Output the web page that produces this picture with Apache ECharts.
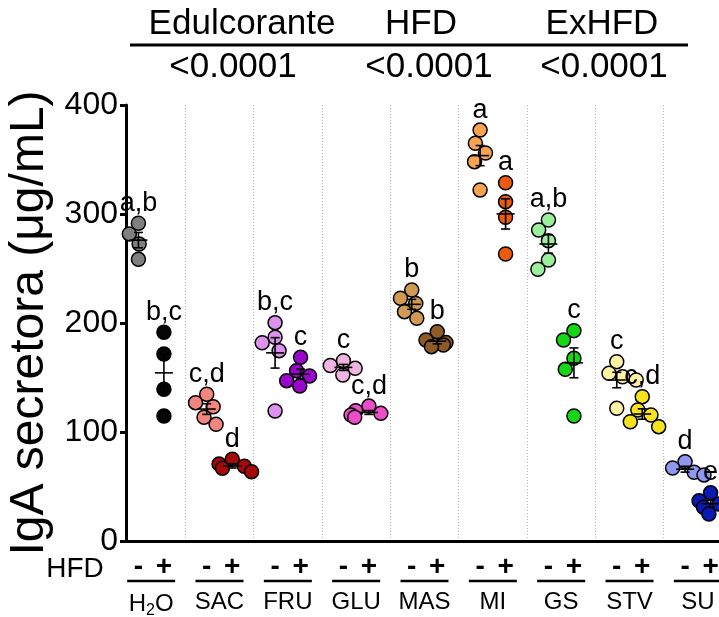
<!DOCTYPE html>
<html><head><meta charset="utf-8">
<script src="https://cdn.jsdelivr.net/npm/echarts@6/dist/echarts.min.js"></script>
<style>html,body{margin:0;padding:0;background:#fff}#c{width:719px;height:617px}</style>
</head><body><div id="c"></div>
<script>
// ---------------- DATA ----------------
const groups = ['H2O', 'SAC', 'FRU', 'GLU', 'MAS', 'MI', 'GS', 'STV', 'SU'];
const minusValues = [
  [291.5, 281.7, 272.5, 258.4],
  [134.6, 126.9, 123.2, 113.5, 107.0],
  [200.3, 186.9, 181.9, 174.6, 119.3],
  [165.4, 161.0, 158.4, 152.3],
  [230.3, 222.7, 218.0, 210.4, 204.3],
  [377.0, 364.9, 356.0, 348.0, 322.0],
  [294.5, 285.3, 275.5, 257.8, 249.3],
  [164.5, 153.8, 150.7, 147.7, 121.7],
  [72.8, 67.0, 63.0, 60.6]
];
const plusValues = [
  [191.5, 171.6, 139.2, 114.7],
  [75.0, 70.6, 68.5, 66.7, 63.6],
  [168.5, 156.2, 151.4, 147.1, 142.2],
  [123.8, 119.5, 117.1, 115.6, 113.5],
  [192.0, 184.4, 182.0, 179.8, 178.3],
  [328.7, 311.3, 297.0, 263.3],
  [193.0, 184.4, 167.6, 157.5, 114.7],
  [132.4, 120.2, 115.6, 109.4, 104.9],
  [44.3, 37.0, 33.9, 31.0, 24.8]
];
const minusLetters = ['a,b', 'c,d', 'b,c', 'c', 'b', 'a', 'a,b', 'c', 'd'];
const plusLetters = ['b,c', 'd', 'c', 'c,d', 'b', 'a', 'c', 'c,d', 'e'];
const factors = ['Edulcorante', 'HFD', 'ExHFD'];
const pValues = ['<0.0001', '<0.0001', '<0.0001'];
const yTicks = [0, 100, 200, 300, 400];
const signLabels = ['-', '+'];
const rowLabel = 'HFD';
const yTitle = 'IgA secretora (μg/mL)';

// ---------------- STYLES ----------------
const minusColors = ['#808080', '#F4857F', '#DC92EE', '#F0B3E2', '#D09A55', '#F8A352', '#9BEE9B', '#FFF2A2', '#8F98F0'];
const plusColors  = ['#050505', '#A80808', '#9A06CE', '#EE4CC8', '#8E5A26', '#EE5A0E', '#14D814', '#F6E31E', '#0A1AB2'];
const FONT = '"Liberation Sans", Arial, sans-serif';

function mean(a) { return a.reduce((s, v) => s + v, 0) / a.length; }
function sem(a) {
  const m = mean(a);
  const sd = Math.sqrt(a.reduce((s, v) => s + (v - m) * (v - m), 0) / (a.length - 1));
  return sd / Math.sqrt(a.length);
}

const TOP = 105, BOTTOM = 76, GW = 615, GL = 117, SHIFT = 12.75;

const chart = echarts.init(document.getElementById('c'), null, { renderer: 'canvas', width: 719, height: 617 });

function scatterData(vals, colors) {
  const d = [];
  vals.forEach((arr, i) => {
    arr.slice().sort((a, b) => b - a).forEach(v => d.push({ value: [i, v], itemStyle: { color: colors[i] } }));
  });
  return d;
}

function errorRender(vals, letters) {
  return function (params, api) {
    const i = params.dataIndex;
    const arr = vals[i];
    const m = mean(arr), s = sem(arr), mx = Math.max.apply(null, arr);
    const c = api.coord([i, m]);
    const hi = api.coord([i, m + s]);
    const lo = api.coord([i, m - s]);
    const tp = api.coord([i, mx]);
    const st = { stroke: '#000', lineWidth: 1.6 };
    return {
      type: 'group', children: [
        { type: 'line', shape: { x1: c[0] - 9, y1: c[1], x2: c[0] + 9, y2: c[1] }, style: st },
        { type: 'line', shape: { x1: c[0], y1: hi[1], x2: c[0], y2: lo[1] }, style: st },
        { type: 'line', shape: { x1: c[0] - 4.5, y1: hi[1], x2: c[0] + 4.5, y2: hi[1] }, style: st },
        { type: 'line', shape: { x1: c[0] - 4.5, y1: lo[1], x2: c[0] + 4.5, y2: lo[1] }, style: st },
        { type: 'text', x: c[0], y: tp[1] - 20, style: { text: letters[i], fontSize: 27, fontFamily: FONT, fill: '#000', align: 'center', verticalAlign: 'middle' } }
      ]
    };
  };
}

const hiddenY = (gi) => ({ type: 'value', gridIndex: gi, min: 0, max: 400, show: false });
const gridBase = { top: TOP, bottom: BOTTOM, width: GW, outerBoundsMode: 'none', containLabel: false };

const option = {
  backgroundColor: '#fff',
  animation: false,
  grid: [
    Object.assign({}, gridBase, { left: 126, width: GW - 9 }),
    Object.assign({}, gridBase, { left: GL }),
    Object.assign({}, gridBase, { left: GL - SHIFT }),
    Object.assign({}, gridBase, { left: GL + SHIFT })
  ],
  xAxis: [
    { type: 'value', gridIndex: 0, min: 0, max: 1, axisLine: { show: true, lineStyle: { color: '#000', width: 3 } },
      axisTick: { show: false }, axisLabel: { show: false }, splitLine: { show: false } },
    { type: 'category', gridIndex: 1, data: groups, boundaryGap: true,
      axisLine: { show: false }, axisTick: { show: false },
      splitLine: { show: true, interval: (idx) => idx !== 0, lineStyle: { color: '#b8b8b8', width: 1, type: [1, 2] } },
      axisLabel: {
        interval: 0, margin: 49, color: '#000', hideOverlap: false,
        formatter: (v) => v === 'H2O' ? '{n|H}{s|2}{n|O}' : '{n|' + v + '}',
        rich: {
          n: { fontSize: 24, fontFamily: FONT, color: '#000' },
          s: { fontSize: 16, fontFamily: FONT, color: '#000', padding: [13, 0, 0, 0] }
        }
      } },
    { type: 'category', gridIndex: 2, data: groups, boundaryGap: true,
      axisLine: { show: false }, axisTick: { show: false }, splitLine: { show: false },
      axisLabel: { interval: 0, margin: 12, hideOverlap: false, formatter: () => signLabels[0], fontSize: 28, fontWeight: 'bold', fontFamily: FONT, color: '#000' },
      jitter: 40, jitterOverlap: false, jitterMargin: 0 },
    { type: 'category', gridIndex: 3, data: groups, boundaryGap: true,
      axisLine: { show: false }, axisTick: { show: false }, splitLine: { show: false },
      axisLabel: { interval: 0, margin: 12, hideOverlap: false, formatter: () => signLabels[1], fontSize: 28, fontWeight: 'bold', fontFamily: FONT, color: '#000' },
      jitter: 40, jitterOverlap: false, jitterMargin: 0 }
  ],
  yAxis: [
    { type: 'value', gridIndex: 0, min: yTicks[0], max: yTicks[yTicks.length - 1], interval: yTicks[1] - yTicks[0],
      axisLine: { show: true, lineStyle: { color: '#000', width: 3 } },
      axisTick: { show: true, length: 6, lineStyle: { color: '#000', width: 3 } },
      axisLabel: { fontSize: 32, fontFamily: FONT, color: '#000', margin: 8 },
      splitLine: { show: false },
      name: yTitle, nameLocation: 'middle', nameGap: 62,
      nameTextStyle: { fontSize: 48, fontFamily: FONT, color: '#000' } },
    hiddenY(1), hiddenY(2), hiddenY(3)
  ],
  graphic: [
    { type: 'text', x: 242, y: 24, style: { text: factors[0], fontSize: 35, fontFamily: FONT, fill: '#000', align: 'center', verticalAlign: 'middle' } },
    { type: 'text', x: 421, y: 24, style: { text: factors[1], fontSize: 35, fontFamily: FONT, fill: '#000', align: 'center', verticalAlign: 'middle' } },
    { type: 'text', x: 602, y: 24, style: { text: factors[2], fontSize: 35, fontFamily: FONT, fill: '#000', align: 'center', verticalAlign: 'middle' } },
    { type: 'line', shape: { x1: 130, y1: 45, x2: 688, y2: 45 }, style: { stroke: '#000', lineWidth: 3 } },
    { type: 'text', x: 233, y: 67, style: { text: pValues[0], fontSize: 35, fontFamily: FONT, fill: '#000', align: 'center', verticalAlign: 'middle' } },
    { type: 'text', x: 429, y: 67, style: { text: pValues[1], fontSize: 35, fontFamily: FONT, fill: '#000', align: 'center', verticalAlign: 'middle' } },
    { type: 'text', x: 604, y: 67, style: { text: pValues[2], fontSize: 35, fontFamily: FONT, fill: '#000', align: 'center', verticalAlign: 'middle' } },
    { type: 'text', x: 75, y: 569, style: { text: rowLabel, fontSize: 28, fontFamily: FONT, fill: '#000', align: 'center', verticalAlign: 'middle' } }
  ],
  series: [
    { type: 'scatter', xAxisIndex: 2, yAxisIndex: 2, symbolSize: 14, clip: false, z: 3,
      itemStyle: { borderColor: '#000', borderWidth: 1.5, opacity: 1 },
      data: scatterData(minusValues, minusColors) },
    { type: 'scatter', xAxisIndex: 3, yAxisIndex: 3, symbolSize: 14, clip: false, z: 3,
      itemStyle: { borderColor: '#000', borderWidth: 1.5, opacity: 1 },
      data: scatterData(plusValues, plusColors) },
    { type: 'custom', xAxisIndex: 2, yAxisIndex: 2, z: 5, clip: false,
      data: groups.map((g, i) => [i, mean(minusValues[i])]),
      renderItem: errorRender(minusValues, minusLetters) },
    { type: 'custom', xAxisIndex: 3, yAxisIndex: 3, z: 5, clip: false,
      data: groups.map((g, i) => [i, mean(plusValues[i])]),
      renderItem: errorRender(plusValues, plusLetters) },
    { type: 'custom', xAxisIndex: 1, yAxisIndex: 1, z: 5, clip: false,
      data: groups.map((g, i) => [i, 0]),
      renderItem: function (params, api) {
        const p = api.coord([params.dataIndex, 0]);
        return { type: 'line', shape: { x1: p[0] - 24, y1: p[1] + 40, x2: p[0] + 24, y2: p[1] + 40 }, style: { stroke: '#000', lineWidth: 2.5 } };
      } }
  ]
};
chart.setOption(option);
</script>
</body></html>
